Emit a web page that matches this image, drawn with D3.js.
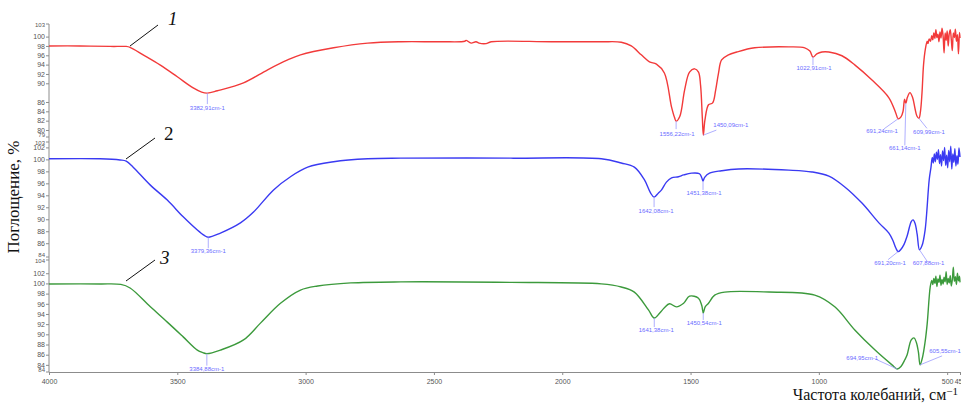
<!DOCTYPE html>
<html>
<head>
<meta charset="utf-8">
<script src="https://cdn.jsdelivr.net/npm/d3@7"></script>
<style>
  html, body { margin: 0; padding: 0; background: #fff; }
  svg { display: block; }
</style>
</head>
<body>
<svg id="chart" width="961" height="405"></svg>
<script>
// IR spectra: wavenumber (cm-1) vs absorption (%) for three samples

const spectrum1 = [
  [4000, 98.0], [3879, 98.0], [3762, 97.9], [3723, 97.9], [3699, 97.9],
  [3684, 97.7], [3633, 96.1], [3566, 93.9], [3500, 91.4], [3438, 89.0], [3405, 88.1],
  [3382.91, 87.9], [3344, 88.4], [3242, 90.1], [3148, 92.9], [3070, 95.0], [3020, 96.1],
  [2891, 97.6], [2758, 98.6], [2629, 98.9], [2473, 98.9], [2380, 99.0], [2375, 99.2],
  [2355, 98.6], [2336, 98.9], [2324, 98.6], [2297, 98.5], [2277, 98.9], [2043, 98.9],
  [1848, 98.9], [1770, 98.8], [1731, 98.0], [1692, 96.1], [1660, 94.6], [1633, 94.1],
  [1602, 92.2], [1574, 84.9], [1562, 82.6], [1556.22, 81.9], [1542, 82.9], [1523, 88.6],
  [1504, 92.4], [1484, 93.1], [1469, 92.4], [1461, 89.6], [1454, 82.5], [1450.09, 78.9],
  [1444, 82.1], [1430, 85.4], [1414, 85.8], [1402, 88.6], [1391, 92.2], [1379, 95.0],
  [1352, 96.1], [1320, 96.7], [1250, 97.6], [1117, 97.8], [1055, 97.6], [1035, 96.9],
  [1022.91, 95.6], [1008, 96.3], [988, 96.7], [961, 96.7], [910, 95.9], [859, 93.9],
  [793, 90.7], [727, 86.9], [700, 83.6], [691.24, 82.4], [680, 82.8], [672, 84.0],
  [666, 86.6], [661.14, 85.7], [655, 87.0], [645, 88.0], [635, 87.0], [625, 84.5],
  [618, 83.0], [609.99, 82.5], [604, 84.0], [598, 88.0], [592, 94.0], [585, 97.3],
  [578, 99.0], [575, 98.5], [570, 99.5], [565, 99.0], [560, 100.2], [556, 99.3],
  [552, 100.8], [548, 99.6], [544, 101.5], [540, 99.8], [536, 100.5], [532, 98.9],
  [528, 101.0], [524, 99.7], [520, 101.8], [516, 100.2], [512, 96.5], [508, 100.8],
  [504, 99.2], [500, 101.2], [496, 98.0], [492, 100.6], [488, 101.5], [484, 99.4],
  [480, 97.0], [476, 100.8], [472, 99.8], [468, 101.6], [464, 99.0], [460, 100.4],
  [456, 96.3], [452, 100.9], [450, 99.7]
];

const spectrum2 = [
  [4000, 100.1], [3801, 100.1], [3723, 99.9], [3699, 99.7], [3672, 98.7], [3605, 95.7],
  [3539, 93.2], [3477, 90.4], [3422, 88.2], [3395, 87.3], [3379.36, 87.0], [3332, 87.7],
  [3254, 89.4], [3203, 91.2], [3125, 94.9], [3059, 97.1], [2992, 98.7], [2891, 99.6],
  [2758, 100.1], [2629, 100.2], [2200, 100.2], [1848, 100.1], [1770, 99.4], [1719, 98.7],
  [1680, 96.6], [1656, 94.4], [1642.08, 93.7], [1625, 94.4], [1613, 94.9], [1594, 96.2],
  [1574, 96.9], [1547, 97.1], [1527, 97.4], [1496, 97.7], [1465, 97.6], [1456, 96.9],
  [1451.38, 96.4], [1445, 97.0], [1426, 97.7], [1379, 98.1], [1313, 98.4], [1117, 98.2],
  [1027, 97.9], [961, 97.2], [899, 95.4], [832, 92.7], [766, 89.4], [727, 87.7],
  [711, 86.4], [700, 85.2], [691.20, 84.6], [680, 85.0], [668, 85.8], [656, 87.2],
  [640, 89.6], [633, 89.9], [625, 89.3], [617, 87.5], [607.88, 84.9], [598, 85.6],
  [586, 88.2], [570, 96.6], [563, 98.7], [558, 100.3], [554, 99.4], [550, 100.9],
  [546, 99.6], [542, 101.2], [538, 100.0], [534, 101.6], [530, 99.3], [526, 100.8],
  [522, 98.9], [518, 101.4], [514, 99.8], [510, 102.0], [506, 99.0], [502, 100.7],
  [498, 98.6], [494, 101.5], [490, 99.6], [486, 102.2], [482, 98.4], [478, 100.9],
  [474, 99.5], [470, 101.8], [466, 98.9], [462, 100.6], [458, 99.2], [454, 101.9],
  [450, 100.4]
];

const spectrum3 = [
  [4000, 99.9], [3801, 99.9], [3720, 99.8], [3684, 99.1], [3605, 95.4], [3539, 92.4],
  [3477, 89.5], [3422, 86.9], [3400, 86.4], [3384.88, 86.2], [3332, 86.9], [3242, 88.9],
  [3176, 92.2], [3098, 96.1], [3020, 98.7], [2953, 99.5], [2824, 100.1], [2629, 100.3],
  [2200, 100.2], [1848, 99.9], [1770, 99.3], [1719, 98.3], [1664, 94.8], [1641.38, 93.2],
  [1620, 94.2], [1602, 95.2], [1582, 96.0], [1555, 95.4], [1527, 96.1], [1504, 97.5],
  [1469, 97.1], [1456, 95.6], [1450.54, 94.2], [1443, 95.4], [1430, 96.1], [1406, 97.7],
  [1367, 98.3], [1195, 98.3], [1016, 97.7], [938, 95.4], [859, 90.8], [781, 86.9],
  [715, 84.0], [694.95, 83.2], [680, 83.7], [665, 85.0], [656, 86.0], [640, 88.9],
  [629, 89.3], [620, 88.4], [612, 86.5], [605.55, 84.0], [596, 85.5], [586, 88.5],
  [578, 92.0], [566, 99.3], [560, 100.6], [556, 99.8], [552, 101.0], [548, 100.0],
  [544, 101.4], [540, 99.4], [536, 100.9], [532, 100.2], [528, 101.6], [524, 99.6],
  [520, 100.8], [516, 99.9], [512, 101.2], [508, 100.3], [504, 102.3], [500, 99.8],
  [496, 101.0], [492, 100.1], [488, 101.5], [484, 99.5], [480, 100.7], [476, 103.2],
  [472, 100.4], [468, 101.3], [464, 99.8], [460, 102.0], [456, 100.5], [452, 101.4],
  [450, 100.2]
];

// Peak positions marked on each spectrum
const peaks1 = [3382.91, 1556.22, 1450.09, 1022.91, 691.24, 661.14, 609.99];
const peaks2 = [3379.36, 1642.08, 1451.38, 691.20, 607.88];
const peaks3 = [3384.88, 1641.38, 1450.54, 694.95, 605.55];

// Axis ticks
const xTicks = [4000, 3500, 3000, 2500, 2000, 1500, 1000, 500, 450];
const yTicks1 = [80, 82, 84, 86, 90, 92, 94, 96, 98, 100];
const yTicks2 = [86, 88, 90, 92, 94, 96, 98, 100, 102];
const yTicks3 = [84, 86, 88, 90, 92, 94, 96, 98, 100, 102];
const yDomain1 = [78.5, 102.7];
const yDomain2 = [83.7, 102.9];
const yDomain3 = [82.6, 104.6];
const yEndLabels1 = ["79", "103"];
const yEndLabels2 = ["84", "103"];
const yEndLabels3 = ["84", "104"];
const curveNames = ["1", "2", "3"];

// Label placement for peaks: [lineDx, lineDy, textDx, textDy, anchor]
const peakLabelPlacement1 = [
  [0, 11, 0, 17, "middle"], [0, 8, 1, 15, "middle"], [13, -5, 10, -8, "start"],
  [0, 8, 1, 13, "middle"], [-14, 10, -16, 14, "middle"], [-1, 42, -1, 47, "middle"],
  [8, 10, 10, 16, "middle"]
];
const peakLabelPlacement2 = [
  [0, 11, 0, 16, "middle"], [0, 10, 2, 16, "middle"], [0, 9, 1, 14, "middle"],
  [-10, 8, -8, 13, "middle"], [8, 12, 9, 15, "middle"]
];
const peakLabelPlacement3 = [
  [0, 12, 0, 17, "middle"], [0, 9, 2, 14, "middle"], [0, 7, 1, 12, "middle"],
  [-22, -10, -35, -9, "middle"], [22, -9, 25, -12, "middle"]
];

const svg = d3.select("#chart");
const axisColor = "#8c8c8c";
const tickTextColor = "#555";
const peakTextColor = "#6b6bff";
const peakLineColor = "#9a9aff";
const tickFont = "7px 'Liberation Sans', Arial, sans-serif";

const x = d3.scaleLinear().domain([4000, 450]).range([49, 960]);

const panels = [
  { data: spectrum1, peaks: peaks1, place: peakLabelPlacement1, ticks: yTicks1, domain: yDomain1,
    ends: yEndLabels1, range: [137, 24], color: "#f23a3a", name: curveNames[0],
    label: { x: 168, y: 25, italic: true }, leader: [[130, 46], [158, 25]] },
  { data: spectrum2, peaks: peaks2, place: peakLabelPlacement2, ticks: yTicks2, domain: yDomain2,
    ends: yEndLabels2, range: [257, 142], color: "#3a3af2", name: curveNames[1],
    label: { x: 164, y: 140, italic: false }, leader: [[126, 159], [155, 138]] },
  { data: spectrum3, peaks: peaks3, place: peakLabelPlacement3, ticks: yTicks3, domain: yDomain3,
    ends: yEndLabels3, range: [372, 260], color: "#3c9a3c", name: curveNames[2],
    label: { x: 160, y: 264, italic: true }, leader: [[126, 281], [155, 260]] }
];

// Y axis spine
svg.append("line")
  .attr("x1", 49).attr("x2", 49).attr("y1", 24).attr("y2", 372)
  .attr("stroke", axisColor).attr("stroke-width", 1);

// X axis
const xAxis = d3.axisBottom(x).tickValues(xTicks).tickSize(3).tickFormat(d3.format("d"));
const gx = svg.append("g").attr("transform", "translate(0,372)").call(xAxis);
gx.select(".domain").attr("stroke", axisColor);
gx.selectAll(".tick line").attr("stroke", axisColor);
gx.selectAll(".tick text").attr("fill", tickTextColor)
  .style("font", tickFont).attr("dy", "0.8em");

panels.forEach(p => {
  const y = d3.scaleLinear().domain(p.domain).range(p.range);

  // Y ticks for this panel
  const yAxis = d3.axisLeft(y).tickValues(p.ticks).tickSize(3).tickFormat(d3.format("d"));
  const gy = svg.append("g").attr("transform", "translate(49,0)").call(yAxis);
  gy.select(".domain").remove();
  gy.selectAll(".tick line").attr("stroke", axisColor);
  gy.selectAll(".tick text").attr("fill", tickTextColor)
    .style("font", tickFont).attr("x", -4);

  // End labels at the panel limits (nudged inward so neighbours stay apart)
  const ends = [[p.domain[0], p.ends[0], -1.5], [p.domain[1], p.ends[1], 1.5]];
  const ge = svg.append("g");
  ge.selectAll("line").data(ends).join("line")
    .attr("x1", 46).attr("x2", 49)
    .attr("y1", d => y(d[0])).attr("y2", d => y(d[0]))
    .attr("stroke", axisColor);
  ge.selectAll("text").data(ends).join("text")
    .attr("x", 45).attr("y", d => y(d[0]) + d[2]).attr("dy", "0.32em")
    .attr("text-anchor", "end").attr("fill", tickTextColor)
    .style("font", "6px 'Liberation Sans', Arial, sans-serif")
    .text(d => d[1]);

  // Spectrum line
  const line = d3.line()
    .x(d => x(d[0])).y(d => y(d[1]))
    .curve(d3.curveCatmullRom.alpha(0.5));
  svg.append("path").datum(p.data)
    .attr("d", line)
    .attr("fill", "none")
    .attr("stroke", p.color)
    .attr("stroke-width", 1.4)
    .attr("stroke-linejoin", "round");

  // Peak markers
  const lookup = new Map(p.data.map(d => [d[0], d[1]]));
  p.peaks.forEach((wn, i) => {
    const px = x(wn), py = y(lookup.get(wn));
    const [lx, ly, tx, ty, anchor] = p.place[i];
    svg.append("line")
      .attr("x1", px).attr("y1", py).attr("x2", px + lx).attr("y2", py + ly)
      .attr("stroke", peakLineColor).attr("stroke-width", 0.8);
    svg.append("text")
      .attr("x", px + tx).attr("y", py + ty)
      .attr("text-anchor", anchor)
      .attr("fill", peakTextColor)
      .style("font", "6px 'Liberation Sans', Arial, sans-serif")
      .text(d3.format(".2f")(wn).replace(".", ",") + "cm-1");
  });

  // Curve number with leader
  svg.append("line")
    .attr("x1", p.leader[0][0]).attr("y1", p.leader[0][1])
    .attr("x2", p.leader[1][0]).attr("y2", p.leader[1][1])
    .attr("stroke", "#111").attr("stroke-width", 1);
  svg.append("text")
    .attr("x", p.label.x).attr("y", p.label.y)
    .attr("fill", "#111")
    .style("font-family", "'Liberation Serif', 'Times New Roman', serif")
    .style("font-size", "19px")
    .style("font-style", p.label.italic ? "italic" : "normal")
    .text(p.name);
});

// Axis titles
svg.append("text")
  .attr("transform", "translate(19,197) rotate(-90)")
  .attr("text-anchor", "middle")
  .attr("fill", "#111")
  .style("font", "17px 'Liberation Serif', 'Times New Roman', serif")
  .text("Поглощение, %");

const xt = svg.append("text")
  .attr("x", 958).attr("y", 400)
  .attr("text-anchor", "end")
  .attr("fill", "#111")
  .style("font", "16px 'Liberation Serif', 'Times New Roman', serif");
xt.append("tspan").text("Частота колебаний, см");
xt.append("tspan").attr("dy", "-0.45em").style("font-size", "11px").text("−1");
</script>
</body>
</html>
